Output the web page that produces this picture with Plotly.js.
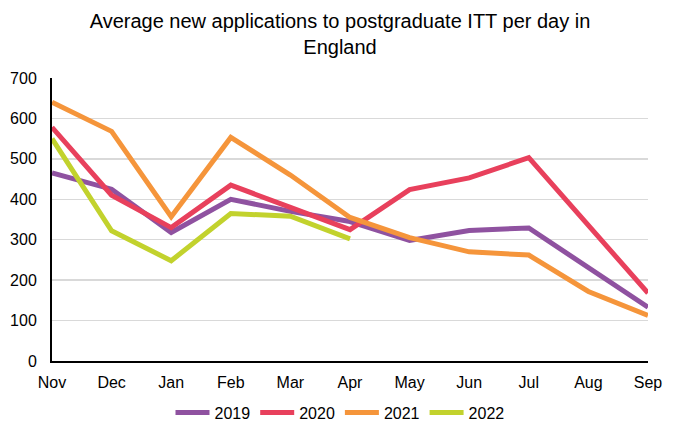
<!DOCTYPE html>
<html>
<head>
<meta charset="utf-8">
<script src="https://cdn.plot.ly/plotly-3.0.1.min.js"></script>
<style>html,body{margin:0;padding:0;background:#fff;}#chart{width:680px;height:437px;}</style>
</head>
<body>
<div id="chart"></div>
<script>
const months = ["Nov","Dec","Jan","Feb","Mar","Apr","May","Jun","Jul","Aug","Sep"];
const y2019 = [465, 425, 318, 400, 370, 345, 298, 323, 329, 231, 133];
const y2020 = [578, 410, 330, 435, 380, 325, 424, 453, 503, 337, 168];
const y2021 = [640, 568, 357, 553, 460, 355, 305, 270, 262, 172, 113];
const y2022 = [550, 322, 248, 365, 358, 302];
const seriesNames = ["2019","2020","2021","2022"];
const colors = ["#8f52a0","#e8405c","#f5953b","#c2d22d"];

const data = [y2019, y2020, y2021, y2022].map((v, i) => ({
  type: "scatter",
  mode: "lines",
  name: seriesNames[i],
  x: months.slice(0, v.length),
  y: v,
  line: {color: colors[i], width: 5}
}));

const layout = {
  width: 680, height: 437,
  margin: {l: 52, r: 32, t: 78, b: 76, autoexpand: false},
  paper_bgcolor: "#fff", plot_bgcolor: "#fff",
  font: {family: "Liberation Sans, Arial, sans-serif", size: 16, color: "#000"},
  title: {
    text: "Average new applications to postgraduate ITT per day in<br>England",
    font: {size: 20, color: "#000"},
    x: 0.5, xanchor: "center", y: 0.935, yanchor: "top"
  },
  showlegend: true,
  legend: {orientation: "h", xref: "container", x: 0.5, xanchor: "center", yref: "container", y: 0.095, yanchor: "top",
    font: {size: 16}, itemwidth: 34, tracegroupgap: 0},
  xaxis: {
    type: "category", categoryarray: months, categoryorder: "array",
    range: [0, 10], automargin: false,
    showgrid: false, zeroline: false,
    showline: true, linecolor: "#000", linewidth: 2,
    ticks: "", tickfont: {size: 16}, ticklabelstandoff: 6
  },
  yaxis: {
    range: [0, 700], dtick: 100, automargin: false,
    showgrid: true, gridcolor: "#d9d9d9", gridwidth: 1.5,
    zeroline: false, showline: true, linecolor: "#000", linewidth: 2,
    ticks: "", ticklen: 0, tickfont: {size: 16}, ticklabelstandoff: 10
  }
};

Plotly.newPlot("chart", data, layout, {displayModeBar: false, staticPlot: true});
</script>
</body>
</html>
